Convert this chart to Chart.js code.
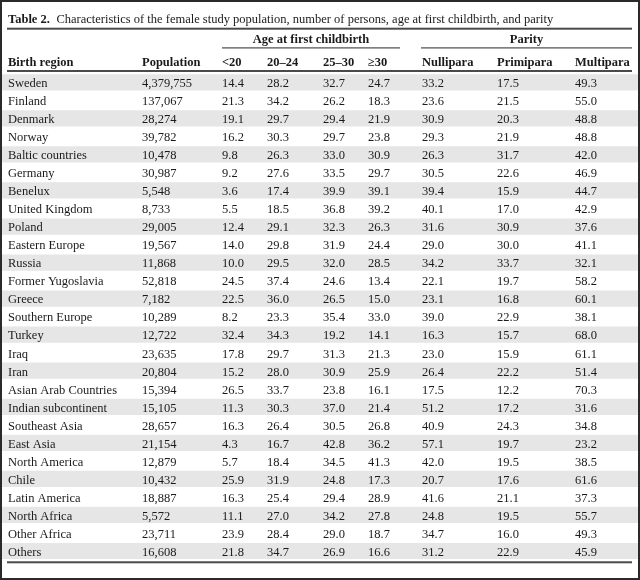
<!DOCTYPE html>
<html>
<head>
<meta charset="utf-8">
<script src="https://cdn.jsdelivr.net/npm/chart.js@4.4.1/dist/chart.umd.min.js"></script>
<style>
  html, body { margin: 0; padding: 0; background: #fff; }
  #wrap { width: 640px; height: 580px; position: relative; }
</style>
</head>
<body>
<div id="wrap"><canvas id="tbl" width="640" height="580"></canvas></div>
<script>
const regions = [
  'Sweden', 'Finland', 'Denmark', 'Norway', 'Baltic countries', 'Germany', 'Benelux',
  'United Kingdom', 'Poland', 'Eastern Europe', 'Russia', 'Former Yugoslavia', 'Greece',
  'Southern Europe', 'Turkey', 'Iraq', 'Iran', 'Asian Arab Countries', 'Indian subcontinent',
  'Southeast Asia', 'East Asia', 'North America', 'Chile', 'Latin America', 'North Africa',
  'Other Africa', 'Others',
];
const population = [
  4379755, 137067, 28274, 39782, 10478, 30987, 5548, 8733, 29005, 19567, 11868, 52818, 7182,
  10289, 12722, 23635, 20804, 15394, 15105, 28657, 21154, 12879, 10432, 18887, 5572, 23711, 16608,
];
const ageUnder20 = [
  14.4, 21.3, 19.1, 16.2, 9.8, 9.2, 3.6, 5.5, 12.4, 14.0, 10.0, 24.5, 22.5,
  8.2, 32.4, 17.8, 15.2, 26.5, 11.3, 16.3, 4.3, 5.7, 25.9, 16.3, 11.1, 23.9, 21.8,
];
const age20to24 = [
  28.2, 34.2, 29.7, 30.3, 26.3, 27.6, 17.4, 18.5, 29.1, 29.8, 29.5, 37.4, 36.0,
  23.3, 34.3, 29.7, 28.0, 33.7, 30.3, 26.4, 16.7, 18.4, 31.9, 25.4, 27.0, 28.4, 34.7,
];
const age25to30 = [
  32.7, 26.2, 29.4, 29.7, 33.0, 33.5, 39.9, 36.8, 32.3, 31.9, 32.0, 24.6, 26.5,
  35.4, 19.2, 31.3, 30.9, 23.8, 37.0, 30.5, 42.8, 34.5, 24.8, 29.4, 34.2, 29.0, 26.9,
];
const age30plus = [
  24.7, 18.3, 21.9, 23.8, 30.9, 29.7, 39.1, 39.2, 26.3, 24.4, 28.5, 13.4, 15.0,
  33.0, 14.1, 21.3, 25.9, 16.1, 21.4, 26.8, 36.2, 41.3, 17.3, 28.9, 27.8, 18.7, 16.6,
];
const nullipara = [
  33.2, 23.6, 30.9, 29.3, 26.3, 30.5, 39.4, 40.1, 31.6, 29.0, 34.2, 22.1, 23.1,
  39.0, 16.3, 23.0, 26.4, 17.5, 51.2, 40.9, 57.1, 42.0, 20.7, 41.6, 24.8, 34.7, 31.2,
];
const primipara = [
  17.5, 21.5, 20.3, 21.9, 31.7, 22.6, 15.9, 17.0, 30.9, 30.0, 33.7, 19.7, 16.8,
  22.9, 15.7, 15.9, 22.2, 12.2, 17.2, 24.3, 19.7, 19.5, 17.6, 21.1, 19.5, 16.0, 22.9,
];
const multipara = [
  49.3, 55.0, 48.8, 48.8, 42.0, 46.9, 44.7, 42.9, 37.6, 41.1, 32.1, 58.2, 60.1,
  38.1, 68.0, 61.1, 51.4, 70.3, 31.6, 34.8, 23.2, 38.5, 61.6, 37.3, 55.7, 49.3, 45.9,
];
const columnHeaders = ['Birth region', 'Population', '<20', '20–24', '25–30', '≥30', 'Nullipara', 'Primipara', 'Multipara'];
const groupHeaders = ['Age at first childbirth', 'Parity'];
const titleBold = 'Table 2.';
const titleText = 'Characteristics of the female study population, number of persons, age at first childbirth, and parity';

// layout (x scale runs 0..640 across the canvas)
const colX = [8, 142, 222, 267, 323, 368, 422, 497, 575];
const groupSpan = [[222, 400], [421, 632]];
const FONT = '"Liberation Serif", "Times New Roman", serif';
const INK = '#1a1a1a';
const RULE = '#4a4a4a';

const columns = [
  regions,
  population.map((v) => v.toLocaleString('en-US')),
  ...[ageUnder20, age20to24, age25to30, age30plus, nullipara, primipara, multipara]
    .map((arr) => arr.map((v) => v.toFixed(1))),
];

const tablePlugin = {
  id: 'tableText',
  afterDraw(chart) {
    const { ctx, scales: { x, y } } = chart;
    ctx.save();

    // frame
    ctx.strokeStyle = '#2a2a2a';
    ctx.lineWidth = 2;
    ctx.strokeRect(1, 1, 638, 578);

    const hline = (x0, x1, yy, w) => {
      ctx.fillStyle = RULE;
      ctx.fillRect(x.getPixelForValue(x0), yy, x.getPixelForValue(x1) - x.getPixelForValue(x0), w);
    };
    hline(7, 632, 27.7, 2);
    groupSpan.forEach(([a, b]) => hline(a, b, 47.3, 1.2));
    hline(7, 632, 70, 2);
    hline(7, 632, y.getPixelForValue(regions.length - 1) + 10.3, 2);

    ctx.fillStyle = INK;
    ctx.textBaseline = 'alphabetic';

    // title
    ctx.textAlign = 'left';
    ctx.font = `bold 12.5px ${FONT}`;
    ctx.fillText(titleBold, 8, 22.5);
    const tw = ctx.measureText(titleBold).width;
    ctx.font = `12.5px ${FONT}`;
    ctx.fillText(titleText, 8 + tw + 6.5, 22.5);

    // group headers
    ctx.font = `bold 12.5px ${FONT}`;
    ctx.textAlign = 'center';
    groupHeaders.forEach((g, i) => {
      const [a, b] = groupSpan[i];
      ctx.fillText(g, x.getPixelForValue((a + b) / 2), 43);
    });

    // column headers
    ctx.textAlign = 'left';
    columnHeaders.forEach((h, c) => ctx.fillText(h, x.getPixelForValue(colX[c]), 66));

    // cells
    ctx.font = `12.5px ${FONT}`;
    columns.forEach((col, c) => {
      const px = x.getPixelForValue(colX[c]);
      col.forEach((txt, r) => {
        ctx.fillText(txt, px, y.getPixelForValue(r) + 4.8);
      });
    });
    ctx.restore();
  },
};

new Chart(document.getElementById('tbl'), {
  type: 'bar',
  data: {
    labels: regions,
    datasets: [{
      data: regions.map((_, i) => (i % 2 === 0 ? [2, 638] : null)),
      backgroundColor: '#e6e6e6',
      borderWidth: 0,
      barPercentage: 1,
      categoryPercentage: 0.9,
    }],
  },
  options: {
    indexAxis: 'y',
    responsive: false,
    animation: false,
    layout: { padding: { top: 73.3, bottom: 20, left: 0, right: 0 } },
    plugins: { legend: { display: false }, tooltip: { enabled: false } },
    scales: {
      x: { type: 'linear', min: 0, max: 640, display: false },
      y: { type: 'category', display: false, offset: true },
    },
  },
  plugins: [tablePlugin],
});
</script>
</body>
</html>
